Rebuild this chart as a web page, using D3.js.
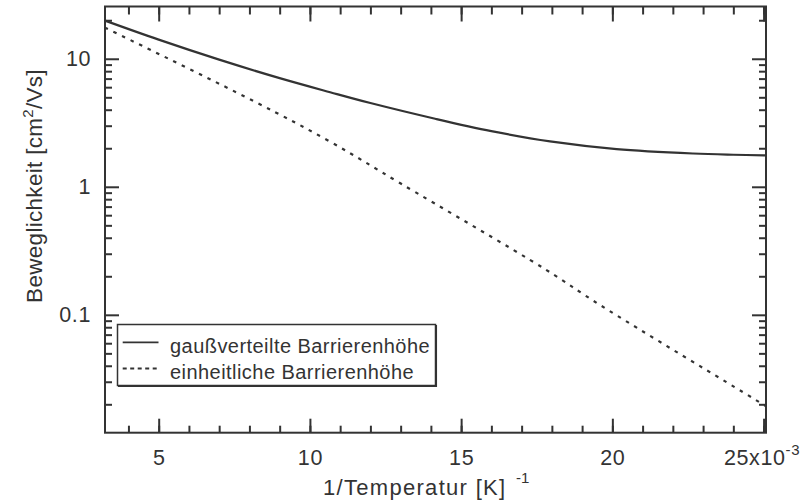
<!DOCTYPE html>
<html><head><meta charset="utf-8">
<script src="https://cdn.jsdelivr.net/npm/d3@7"></script>
<style>body{margin:0;background:#fff}svg{display:block}</style>
</head><body>
<svg id="c" width="805" height="501"></svg>
<script>
// data (x in 1e-3 K^-1, mobility in cm^2/Vs)
const gaussX = [3.225, 5, 7, 9, 10.67, 12, 14.14, 16, 17.94, 20.14, 22.67, 24.0, 25.08];
const gaussY = [19.85, 14.1, 9.84, 7.06, 5.48, 4.51, 3.40, 2.72, 2.26, 1.97, 1.82, 1.78, 1.76];
const uniX = [3.225, 8.18, 10.67, 12.99, 17.78, 19.6, 24.69, 25.08];
const uniY = [17.5, 4.62, 2.25, 1.065, 0.227, 0.119, 0.022, 0.0193];
const xMajor = [5, 10, 15, 20, 25];
const xMinor = d3.range(4, 26);
const yMajor = [0.1, 1, 10];
const yMinor = [0.02,0.03,0.04,0.05,0.06,0.07,0.08,0.09,0.2,0.3,0.4,0.5,0.6,0.7,0.8,0.9,2,3,4,5,6,7,8,9,20];
const legendLabels = ["gaußverteilte Barrierenhöhe", "einheitliche Barrierenhöhe"];

const col = "#333";
const L = 105, R = 766, T = 6.5, B = 432.7;
const svg = d3.select("#c");
const x = d3.scaleLinear().domain([3.225, 25.08]).range([L, R]);
const y = d3.scaleLog().domain([0.012, 25.6]).range([B, T]);
const font = "'Liberation Sans', Arial, Helvetica, sans-serif";

function styleAxis(g){
  g.select(".domain").remove();
  g.selectAll("line").attr("stroke", col).attr("stroke-width", 2);
  g.selectAll("text").attr("fill", col).style("font-family", font).style("font-size", "21.5px")
    .style("letter-spacing", "0.6px");
}
// bottom
svg.append("g").attr("transform",`translate(0,${B})`)
  .call(d3.axisBottom(x).tickValues(xMinor).tickSize(-7).tickFormat(""))
  .call(styleAxis);
const xb = svg.append("g").attr("transform",`translate(0,${B})`)
  .call(d3.axisBottom(x).tickValues(xMajor).tickSize(-14).tickPadding(17.5)
    .tickFormat(d => d === 25 ? "25x10" : String(d)))
  .call(styleAxis);
xb.selectAll(".tick").filter(d => d === 25).select("text")
  .attr("text-anchor", "end").attr("x", 36)
  .append("tspan").attr("dy", -10).style("font-size", "15px").text("-3");
// top
svg.append("g").attr("transform",`translate(0,${T})`)
  .call(d3.axisTop(x).tickValues(xMinor).tickSize(-8).tickFormat(""))
  .call(styleAxis);
svg.append("g").attr("transform",`translate(0,${T})`)
  .call(d3.axisTop(x).tickValues(xMajor).tickSize(-15).tickFormat(""))
  .call(styleAxis);
// left
svg.append("g").attr("transform",`translate(${L},0)`)
  .call(d3.axisLeft(y).tickValues(yMinor).tickSize(-7).tickFormat(""))
  .call(styleAxis);
svg.append("g").attr("transform",`translate(${L},0)`)
  .call(d3.axisLeft(y).tickValues(yMajor).tickSize(-14).tickPadding(14).tickFormat(d => String(d)))
  .call(styleAxis);
// right
svg.append("g").attr("transform",`translate(${R},0)`)
  .call(d3.axisRight(y).tickValues(yMinor).tickSize(-7).tickFormat(""))
  .call(styleAxis);
svg.append("g").attr("transform",`translate(${R},0)`)
  .call(d3.axisRight(y).tickValues(yMajor).tickSize(-14).tickFormat(""))
  .call(styleAxis);

// frame
svg.append("rect").attr("x", L).attr("y", T).attr("width", R-L).attr("height", B-T)
  .attr("fill", "none").attr("stroke", col).attr("stroke-width", 2);

// curves
const line = d3.line().x(d => x(d[0])).y(d => y(d[1])).curve(d3.curveCatmullRom.alpha(0.5));
svg.append("path").datum(d3.zip(gaussX, gaussY)).attr("d", line)
  .attr("fill", "none").attr("stroke", col).attr("stroke-width", 2.2);
svg.append("path").datum(d3.zip(uniX, uniY)).attr("d", line)
  .attr("fill", "none").attr("stroke", col).attr("stroke-width", 2.2).attr("stroke-dasharray", "3.5,6");

// legend
const lg = svg.append("g");
lg.append("rect").attr("x", 117.5).attr("y", 324.5).attr("width", 318).attr("height", 61)
  .attr("fill", "#fff").attr("stroke", col).attr("stroke-width", 1.5);
lg.append("line").attr("x1", 118).attr("x2", 436).attr("y1", 386.3).attr("y2", 386.3)
  .attr("stroke", col).attr("stroke-width", 1.5);
lg.append("line").attr("x1", 436.3).attr("x2", 436.3).attr("y1", 325).attr("y2", 387)
  .attr("stroke", col).attr("stroke-width", 1.5);
const rows = [342.3, 368.5];
lg.append("line").attr("x1", 122.7).attr("x2", 158.5).attr("y1", rows[0]).attr("y2", rows[0])
  .attr("stroke", col).attr("stroke-width", 1.8);
lg.append("line").attr("x1", 122.7).attr("x2", 158.5).attr("y1", rows[1]).attr("y2", rows[1])
  .attr("stroke", col).attr("stroke-width", 1.8).attr("stroke-dasharray", "4,3.5");
legendLabels.forEach((t, i) => {
  lg.append("text").attr("x", 170).attr("y", rows[i] + 10.5).text(t)
    .attr("fill", col).style("font-family", font).style("font-size", "20px")
    .style("letter-spacing", "0.45px");
});

// axis titles
const yt = svg.append("text").attr("transform", "translate(41.5,186) rotate(-90)")
  .attr("text-anchor", "middle").attr("fill", col)
  .style("font-family", font).style("font-size", "22.5px").style("letter-spacing", "0.3px");
yt.append("tspan").text("Beweglichkeit [cm");
yt.append("tspan").attr("dy", -9).style("font-size", "15px").text("2");
yt.append("tspan").attr("dy", 9).text("/Vs]");

const xt = svg.append("text").attr("x", 323).attr("y", 495).attr("fill", col)
  .style("font-family", font).style("font-size", "22px").style("letter-spacing", "1.3px");
xt.append("tspan").text("1/Temperatur [K]");
xt.append("tspan").attr("x", 516).attr("dy", -12).style("font-size", "15px").style("letter-spacing", "0px").text("-1");
</script>
</body></html>
